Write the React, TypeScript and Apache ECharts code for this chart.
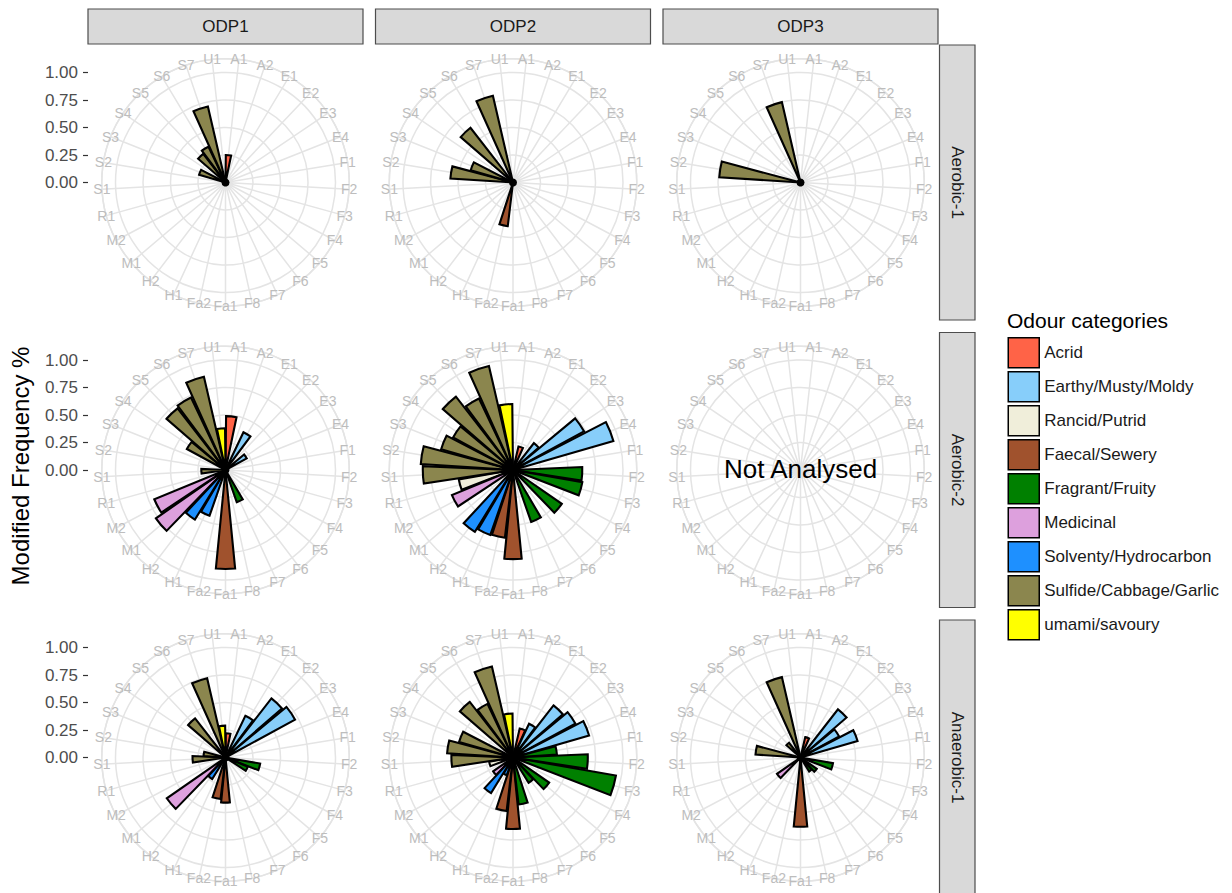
import React, { useEffect, useRef } from "react";
import * as echarts from "echarts";

// ---------- data ----------
const codes = [
  "A1", "A2", "E1", "E2", "E3", "E4", "F1", "F2", "F3", "F4", "F5", "F6", "F7", "F8",
  "Fa1", "Fa2", "H1", "H2", "M1", "M2", "R1", "S1", "S2", "S3", "S4", "S5", "S6", "S7", "U1",
];

const categories = [
  "Acrid",
  "Earthy/Musty/Moldy",
  "Rancid/Putrid",
  "Faecal/Sewery",
  "Fragrant/Fruity",
  "Medicinal",
  "Solventy/Hydrocarbon",
  "Sulfide/Cabbage/Garlic",
  "umami/savoury",
];

const categoryColors = [
  "#FF6347", "#87CEFA", "#F0EEDA", "#A0522D", "#008000",
  "#DDA0DD", "#1E90FF", "#8B864E", "#FFFF00",
];

const odpColumns = ["ODP1", "ODP2", "ODP3"];
const conditionRows = ["Aerobic-1", "Aerobic-2", "Anaerobic-1"];
const radiusTicks = [0, 0.25, 0.5, 0.75, 1];

const odp1Aerobic1: Record<string, number> = { A1: 0.25, S3: 0.25, S5: 0.33, S6: 0.36, S7: 0.71 };
const odp2Aerobic1: Record<string, number> = { Fa2: 0.4, S2: 0.57, S3: 0.4, S5: 0.63, S7: 0.81 };
const odp3Aerobic1: Record<string, number> = { S2: 0.74, S7: 0.75 };

const odp1Aerobic2: Record<string, number> = {
  A1: 0.49, E1: 0.38, E3: 0.22, F7: 0.31, Fa1: 0.9, H1: 0.44, H2: 0.53, M1: 0.77, M2: 0.7,
  S1: 0.22, S4: 0.4, S5: 0.71, S6: 0.73, S7: 0.87, U1: 0.38,
};
const odp2Aerobic2: Record<string, number> = {
  A2: 0.22, E2: 0.31, E3: 0.735, E4: 0.95, F2: 0.63, F3: 0.64, F5: 0.54, F7: 0.5,
  Fa1: 0.81, Fa2: 0.62, H1: 0.625, H2: 0.66, M2: 0.6, R1: 0.5, S1: 0.82, S2: 0.84,
  S3: 0.68, S4: 0.62, S5: 0.845, S6: 0.72, S7: 0.97, U1: 0.6,
};
const odp3Aerobic2: Record<string, number> | null = null; // Not Analysed

const odp1Anaerobic1: Record<string, number> = {
  A1: 0.22, E1: 0.42, E2: 0.68, E3: 0.72, F3: 0.32, F4: 0.22, Fa1: 0.41, Fa2: 0.38,
  H2: 0.23, M1: 0.65, S1: 0.3, S2: 0.2, S5: 0.45, S7: 0.74, U1: 0.29,
};
const odp2Anaerobic1: Record<string, number> = {
  A2: 0.27, E1: 0.34, E2: 0.6, E3: 0.645, E4: 0.72, F1: 0.4, F2: 0.68, F3: 0.95, F5: 0.4,
  F6: 0.27, F8: 0.43, Fa1: 0.65, Fa2: 0.49, H1: 0.17, H2: 0.38, M1: 0.22, R1: 0.22,
  S1: 0.56, S2: 0.6, S3: 0.51, S5: 0.64, S6: 0.54, S7: 0.85, U1: 0.4,
};
const odp3Anaerobic1: Record<string, number> = {
  A2: 0.19, E2: 0.555, E3: 0.4, E4: 0.54, F3: 0.3, F5: 0.18, F6: 0.15, Fa1: 0.63,
  M1: 0.26, S2: 0.41, S5: 0.17, S7: 0.75,
};

const panelValues = [
  [odp1Aerobic1, odp2Aerobic1, odp3Aerobic1],
  [odp1Aerobic2, odp2Aerobic2, odp3Aerobic2],
  [odp1Anaerobic1, odp2Anaerobic1, odp3Anaerobic1],
];

// ---------- layout / style ----------
const W = 1232;
const H = 893;
const FONT = "'Liberation Sans', Arial, Helvetica, sans-serif";
const panelLeft = [88, 375.5, 663];
const panelTop = [45, 332.5, 620];
const panelSize = 275;
const rUnit = 0.4 * panelSize; // pixel radius of value 1.0
const rOuter = 0.45 * panelSize; // outer circle / label radius
const radiusMax = rOuter / rUnit;
const gridColor = "#E4E4E4";

function codeCategory(code: string): number {
  if (code.startsWith("Fa")) return 3;
  const map: Record<string, number> = { A: 0, E: 1, R: 2, F: 4, M: 5, H: 6, S: 7, U: 8 };
  return map[code[0]];
}

function buildOption() {
  const polar: any[] = [];
  const angleAxis: any[] = [];
  const radiusAxis: any[] = [];
  const series: any[] = [];
  const grid: any[] = [];
  const xAxis: any[] = [];
  const yAxis: any[] = [];
  const graphic: any[] = [];
  const n = codes.length;

  for (let r = 0; r < 3; r++) {
    for (let c = 0; c < 3; c++) {
      const cx = panelLeft[c] + panelSize / 2;
      const cy = panelTop[r] + panelSize / 2;

      // background grid polar (spokes at category centres)
      const gi = polar.length;
      polar.push({ center: [cx, cy], radius: rOuter });
      angleAxis.push({
        polarIndex: gi,
        type: "category",
        data: codes,
        startAngle: 90 - 180 / n,
        clockwise: true,
        silent: true,
        z: 0,
        axisLine: { show: true, lineStyle: { color: gridColor, width: 1.5 } },
        axisTick: { show: false },
        axisLabel: { show: false },
        splitLine: { show: true, lineStyle: { color: gridColor, width: 1.5 } },
      });
      radiusAxis.push({
        polarIndex: gi,
        type: "value",
        min: 0,
        max: radiusMax,
        interval: 0.25,
        silent: true,
        z: 0,
        axisLine: { show: false },
        axisTick: { show: false },
        axisLabel: { show: false },
        splitLine: { show: true, lineStyle: { color: gridColor, width: 1.5 } },
      });

      // theta labels, centred on the outer circle
      codes.forEach((code, i) => {
        const th = ((i + 0.5) * 2 * Math.PI) / n;
        graphic.push({
          type: "text",
          x: cx + rOuter * Math.sin(th),
          y: cy - rOuter * Math.cos(th),
          z: 10,
          silent: true,
          style: {
            text: code,
            fontSize: 14,
            fontFamily: FONT,
            fill: "#BDBDBD",
            align: "center",
            verticalAlign: "middle",
          },
        });
      });

      const vals = panelValues[r][c];
      if (vals) {
        const di = polar.length;
        polar.push({ center: [cx, cy], radius: rOuter });
        angleAxis.push({
          polarIndex: di,
          type: "category",
          data: codes,
          startAngle: 90,
          clockwise: true,
          axisLine: { show: false },
          axisTick: { show: false },
          axisLabel: { show: false },
          splitLine: { show: false },
        });
        radiusAxis.push({
          polarIndex: di,
          type: "value",
          min: 0,
          max: radiusMax,
          axisLine: { show: false },
          axisTick: { show: false },
          axisLabel: { show: false },
          splitLine: { show: false },
        });
        categories.forEach((cat, k) => {
          series.push({
            type: "bar",
            name: cat,
            coordinateSystem: "polar",
            polarIndex: di,
            stack: "panel" + r + c,
            barWidth: "90%",
            silent: true,
            z: 3,
            itemStyle: { color: categoryColors[k], borderColor: "#000", borderWidth: 2.1 },
            data: codes.map((code) =>
              codeCategory(code) === k && vals[code] !== undefined ? vals[code] : null
            ),
          });
        });
        // converging outlines form a dark hub at the centre
        graphic.push({
          type: "circle",
          shape: { cx, cy, r: 4 },
          style: { fill: "#000" },
          z: 20,
          silent: true,
        });
      } else {
        graphic.push({
          type: "text",
          x: cx,
          y: cy - 1,
          z: 10,
          style: {
            text: "Not Analysed",
            fontSize: 26,
            fontFamily: FONT,
            fill: "#000",
            align: "center",
            verticalAlign: "middle",
          },
        });
      }
    }

    // radius axis on the left of each row
    const cy = panelTop[r] + panelSize / 2;
    grid.push({ left: panelLeft[0], top: cy - rUnit, width: 10, height: rUnit, containLabel: false });
    xAxis.push({ gridIndex: r, type: "value", show: false });
    yAxis.push({
      gridIndex: r,
      type: "value",
      min: radiusTicks[0],
      max: radiusTicks[radiusTicks.length - 1],
      interval: radiusTicks[1] - radiusTicks[0],
      axisLine: { show: false },
      axisTick: { show: true, length: 5, lineStyle: { color: "#333", width: 1.2 } },
      axisLabel: {
        fontSize: 17,
        color: "#4D4D4D",
        fontFamily: FONT,
        margin: 10,
        formatter: (v: number) => v.toFixed(2),
      },
      splitLine: { show: false },
    });
  }

  // strips
  odpColumns.forEach((lab, c) => {
    graphic.push({
      type: "rect",
      shape: { x: panelLeft[c], y: 9, width: panelSize, height: 35 },
      style: { fill: "#D9D9D9", stroke: "#4D4D4D", lineWidth: 1.2 },
      z: 1,
    });
    graphic.push({
      type: "text",
      x: panelLeft[c] + panelSize / 2,
      y: 26.5,
      z: 2,
      style: { text: lab, fontSize: 17, fontFamily: FONT, fill: "#1A1A1A", align: "center", verticalAlign: "middle" },
    });
  });
  conditionRows.forEach((lab, r) => {
    graphic.push({
      type: "rect",
      shape: { x: 939.5, y: panelTop[r], width: 35.5, height: panelSize },
      style: { fill: "#D9D9D9", stroke: "#4D4D4D", lineWidth: 1.2 },
      z: 1,
    });
    graphic.push({
      type: "text",
      x: 957.25,
      y: panelTop[r] + panelSize / 2,
      rotation: -Math.PI / 2,
      z: 2,
      style: { text: lab, fontSize: 17, fontFamily: FONT, fill: "#1A1A1A", align: "center", verticalAlign: "middle" },
    });
  });

  // y title
  graphic.push({
    type: "text",
    x: 20,
    y: 466,
    rotation: Math.PI / 2,
    style: { text: "Modified Frequency %", fontSize: 24, fontFamily: FONT, fill: "#000", align: "center", verticalAlign: "middle" },
  });

  // legend title
  graphic.push({
    type: "text",
    x: 1007,
    y: 320,
    style: { text: "Odour categories", fontSize: 21, fontFamily: FONT, fill: "#000", align: "left", verticalAlign: "middle" },
  });

  return {
    animation: false,
    backgroundColor: "#fff",
    textStyle: { fontFamily: FONT },
    polar,
    angleAxis,
    radiusAxis,
    grid,
    xAxis,
    yAxis,
    series,
    legend: {
      orient: "vertical",
      left: 1007.5,
      top: 337,
      padding: 0,
      itemWidth: 31,
      itemHeight: 30,
      itemGap: 2.5,
      icon: "rect",
      selectedMode: false,
      data: categories,
      itemStyle: { borderColor: "#000", borderWidth: 1.5 },
      textStyle: { fontSize: 17, color: "#1A1A1A", fontFamily: FONT },
    },
    graphic: { elements: graphic },
  };
}

export default function App() {
  const ref = useRef<HTMLDivElement>(null);
  useEffect(() => {
    if (!ref.current) return;
    const chart = echarts.init(ref.current, null, { renderer: "svg", width: W, height: H });
    chart.setOption(buildOption() as any);
    return () => chart.dispose();
  }, []);
  return (
    <div
      ref={ref}
      style={{ position: "absolute", left: 0, top: 0, width: W, height: H, background: "#fff" }}
    />
  );
}
